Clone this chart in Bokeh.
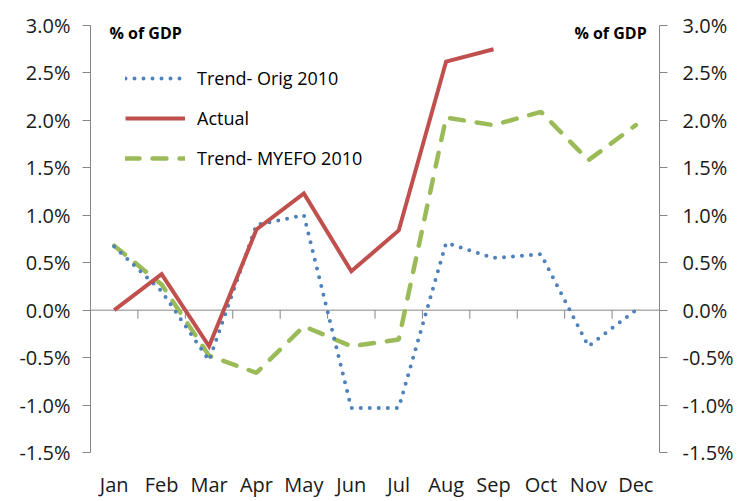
from bokeh.plotting import figure
from bokeh.models import (Range1d, LinearAxis, FixedTicker, PrintfTickFormatter,
                          Span, Label, Legend, LegendItem)
from bokeh.embed import file_html
from bokeh.resources import INLINE

months = ["Jan", "Feb", "Mar", "Apr", "May", "Jun", "Jul", "Aug", "Sep", "Oct", "Nov", "Dec"]
trend_orig = [0.67, 0.20, -0.53, 0.90, 1.00, -1.03, -1.03, 0.71, 0.55, 0.59, -0.38, 0.00]
actual = [0.00, 0.38, -0.38, 0.85, 1.23, 0.41, 0.84, 2.62, 2.75]
trend_myefo = [0.68, 0.27, -0.48, -0.66, -0.17, -0.38, -0.31, 2.03, 1.95, 2.09, 1.58, 1.95]
y_ticks = [-1.5, -1.0, -0.5, 0.0, 0.5, 1.0, 1.5, 2.0, 2.5, 3.0]
unit_label = "% of GDP"

FONT = "Open Sans"
AXIS_GREY = "#868686"
BLUE, RED, GREEN = "#4F81BD", "#C0504D", "#9BBB59"

xc = [i + 0.5 for i in range(len(months))]

p = figure(width=742, height=501, output_backend="svg", toolbar_location=None,
           x_range=Range1d(0, len(months)), y_range=Range1d(min(y_ticks), max(y_ticks)),
           min_border_left=90, min_border_right=83, min_border_top=25, min_border_bottom=49)
p.outline_line_color = None
p.grid.visible = False
p.background_fill_color = "white"
p.border_fill_color = "white"

# x axis (month labels at bottom)
p.xaxis.ticker = FixedTicker(ticks=xc)
p.xaxis.major_label_overrides = {x: m for x, m in zip(xc, months)}
p.xaxis.axis_line_color = None
p.xaxis.major_tick_line_color = None
p.xaxis.minor_tick_line_color = None
p.xaxis.major_tick_out = 0
p.xaxis.major_tick_in = 0
p.xaxis.major_label_text_font = FONT
p.xaxis.major_label_text_font_size = "20px"
p.xaxis.major_label_text_color = "#1a1a1a"
p.xaxis.major_label_standoff = 18

def style_y(ax, standoff):
    ax.ticker = FixedTicker(ticks=y_ticks)
    ax.formatter = PrintfTickFormatter(format="%.1f%%")
    ax.axis_line_color = AXIS_GREY
    ax.major_tick_line_color = AXIS_GREY
    ax.minor_tick_line_color = None
    ax.major_tick_in = 0
    ax.major_tick_out = 8
    ax.major_label_text_font = FONT
    ax.major_label_text_font_size = "20px"
    ax.major_label_text_color = "#1a1a1a"
    ax.major_label_standoff = standoff

style_y(p.yaxis[0], 12)
right_axis = LinearAxis()
style_y(right_axis, 15)
p.add_layout(right_axis, "right")

# zero line with category tick marks hanging below
p.add_layout(Span(location=0, dimension="width", line_color=AXIS_GREY, line_width=1, level="underlay"))
bounds = list(range(1, len(months)))
p.segment(x0=bounds, y0=[0] * len(bounds), x1=bounds, y1=[-0.09] * len(bounds),
          line_color=AXIS_GREY, line_width=1)

r_green = p.line(xc, trend_myefo, line_color=GREEN, line_width=4.5, line_dash="14 13", line_cap="round")
r_blue = p.line(xc, trend_orig, line_color=BLUE, line_width=4, line_dash="0 9", line_cap="round")
r_red = p.line(xc[:len(actual)], actual, line_color=RED, line_width=4, line_join="miter")

legend = Legend(items=[LegendItem(label="Trend- Orig 2010", renderers=[r_blue]),
                       LegendItem(label="Actual", renderers=[r_red]),
                       LegendItem(label="Trend- MYEFO 2010", renderers=[r_green])],
                location=(35, 281), orientation="vertical",
                glyph_width=60, glyph_height=26, label_height=26, spacing=14,
                label_standoff=12, padding=0, margin=0,
                border_line_color=None, background_fill_alpha=0,
                label_text_font=FONT, label_text_font_size="18px", label_text_color="#000000")
p.add_layout(legend)

p.add_layout(Label(x=0.40, y=2.925, text=unit_label, text_font=FONT, text_font_size="16px",
                   text_font_style="bold", text_baseline="middle", text_align="left",
                   text_color="#000000"))
p.add_layout(Label(x=11.73, y=2.925, text=unit_label, text_font=FONT, text_font_size="16px",
                   text_font_style="bold", text_baseline="middle", text_align="right",
                   text_color="#000000"))

open("out.html", "w").write(file_html(p, INLINE))
